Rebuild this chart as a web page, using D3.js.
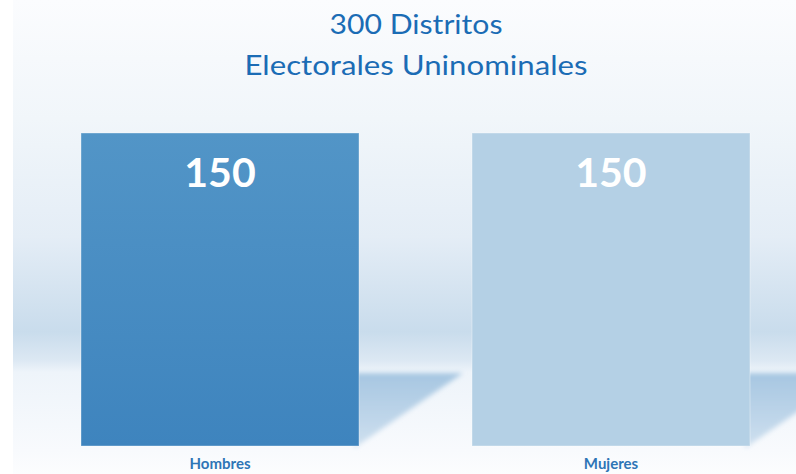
<!DOCTYPE html>
<html>
<head>
<meta charset="utf-8">
<script src="https://cdn.jsdelivr.net/npm/d3@7"></script>
<style>
  body { margin: 0; background: #ffffff; }
  svg { display: block; }
</style>
</head>
<body>
<div id="chart"></div>
<script>
// chart data
const titleLines = ["300 Distritos", "Electorales Uninominales"];
const categories = ["Hombres", "Mujeres"];
const values = [150, 150];
const barColors = ["url(#grad-hombres)", "#b4d0e5"];

const width = 796, height = 474;
const margin = {top: 133, right: 46, bottom: 28, left: 81};
const fontFam = "Lato, Carlito, 'Open Sans', sans-serif";

let svg = d3.select("#chart")
    .append("svg")
    .attr("width", width)
    .attr("height", height);

let defs = svg.append("defs");

// background panel gradient
let bgGrad = defs.append("linearGradient")
    .attr("id", "bg-grad")
    .attr("x1", 0).attr("y1", 0).attr("x2", 0).attr("y2", 1);
[[0, "#fbfcfe"], [0.25, "#f1f6fa"], [0.5, "#e4edf6"], [0.7, "#c9dcec"],
 [0.76, "#dce8f3"], [0.785, "#eef4fa"], [0.95, "#f8fafd"], [1, "#fcfdfe"]]
    .forEach(s => bgGrad.append("stop").attr("offset", s[0]).attr("stop-color", s[1]));

// left bar gradient
let barGrad = defs.append("linearGradient")
    .attr("id", "grad-hombres")
    .attr("x1", 0).attr("y1", 0).attr("x2", 0).attr("y2", 1);
barGrad.append("stop").attr("offset", 0).attr("stop-color", "#5295c7");
barGrad.append("stop").attr("offset", 1).attr("stop-color", "#3e84be");

// floor shadow gradient
let shGrad = defs.append("linearGradient")
    .attr("id", "shadow-grad")
    .attr("x1", 0).attr("y1", 0).attr("x2", 0).attr("y2", 1);
shGrad.append("stop").attr("offset", 0).attr("stop-color", "#a6c6e1");
shGrad.append("stop").attr("offset", 1).attr("stop-color", "#cfe0ef");

defs.append("filter")
    .attr("id", "blur")
    .attr("x", "-20%").attr("y", "-20%").attr("width", "140%").attr("height", "140%")
    .append("feGaussianBlur")
    .attr("stdDeviation", 2.5);

svg.append("rect")
    .attr("x", 13).attr("y", 0)
    .attr("width", width - 13).attr("height", height)
    .attr("fill", "url(#bg-grad)");

// scales
let x = d3.scaleBand()
    .domain(categories)
    .range([margin.left, width - margin.right])
    .paddingInner(0.289)
    .paddingOuter(0);

let y = d3.scaleLinear()
    .domain([0, d3.max(values)])
    .range([height - margin.bottom, margin.top]);

// shadows behind each bar
let shadowTop = 373;
svg.selectAll("polygon.shadow")
    .data(categories)
    .enter()
    .append("polygon")
    .attr("class", "shadow")
    .attr("points", d => {
        let r = x(d) + x.bandwidth();
        return [[r - 5, shadowTop], [r + 104, shadowTop], [r - 5, y(0) + 2]].map(p => p.join(",")).join(" ");
    })
    .attr("fill", "url(#shadow-grad)")
    .attr("filter", "url(#blur)");

// bars
svg.selectAll("rect.bar")
    .data(categories)
    .enter()
    .append("rect")
    .attr("class", "bar")
    .attr("x", d => x(d))
    .attr("y", (d, i) => y(values[i]))
    .attr("width", x.bandwidth())
    .attr("height", (d, i) => y(0) - y(values[i]))
    .attr("fill", (d, i) => barColors[i])
    .attr("stroke", "rgba(255,255,255,0.35)")
    .attr("stroke-width", 1);

// value labels
svg.selectAll("text.value")
    .data(categories)
    .enter()
    .append("text")
    .attr("class", "value")
    .attr("x", d => x(d) + x.bandwidth() / 2)
    .attr("y", (d, i) => y(values[i]) + 54)
    .attr("text-anchor", "middle")
    .style("font-family", fontFam)
    .style("font-weight", 700)
    .style("font-size", "41px")
    .attr("fill", "#ffffff")
    .text((d, i) => values[i]);

// category labels (kept just inside the bottom edge)
svg.selectAll("text.cat")
    .data(categories)
    .enter()
    .append("text")
    .attr("class", "cat")
    .attr("x", d => x(d) + x.bandwidth() / 2)
    .attr("y", 469)
    .attr("text-anchor", "middle")
    .style("font-family", fontFam)
    .style("font-weight", 700)
    .style("font-size", "15px")
    .attr("fill", "#2e75b6")
    .text(d => d);

// chart title
let titleWidths = [173, 343];
svg.selectAll("text.title")
    .data(titleLines)
    .enter()
    .append("text")
    .attr("class", "title")
    .attr("x", 416)
    .attr("y", (d, i) => 34 + i * 41)
    .attr("text-anchor", "middle")
    .attr("textLength", (d, i) => titleWidths[i])
    .attr("lengthAdjust", "spacingAndGlyphs")
    .style("font-family", fontFam)
    .style("font-size", "27px")
    .attr("fill", "#1b6cb5")
    .text(d => d);
</script>
</body>
</html>
